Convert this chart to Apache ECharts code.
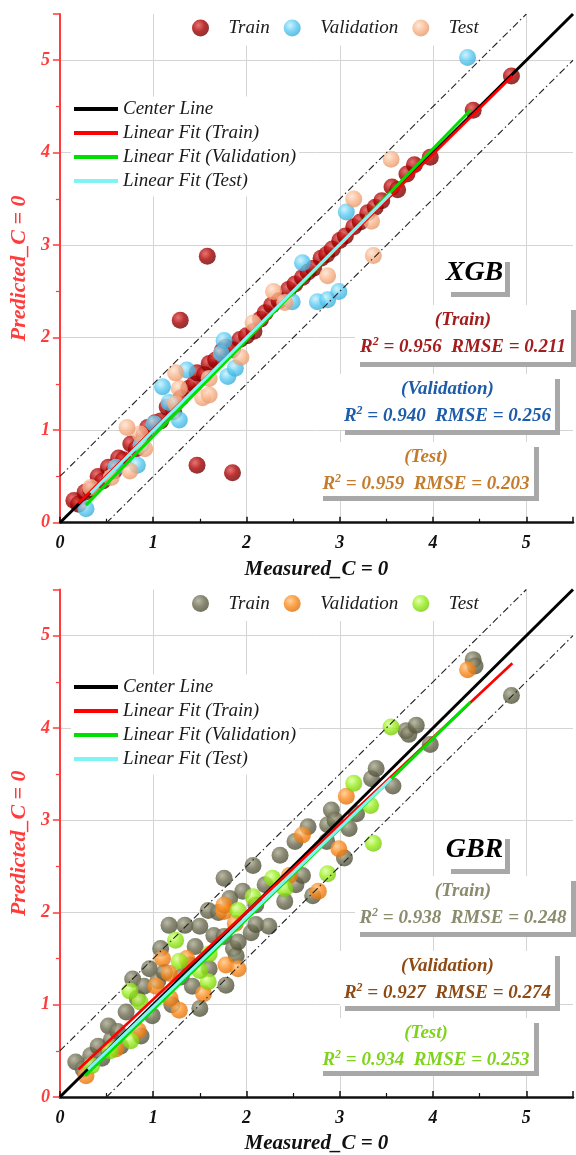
<!DOCTYPE html>
<html><head><meta charset="utf-8">
<script src="https://cdn.jsdelivr.net/npm/echarts@6/dist/echarts.min.js"></script>
<style>html,body{margin:0;padding:0;background:#fff;}#c{width:576px;height:1155px;}</style>
</head><body><div id="c"></div>
<script>
// ---------- DATA ----------
const models = ['XGB', 'GBR'];
const setNames = ['Train', 'Validation', 'Test'];
const fitNames = ['Center Line', 'Linear Fit (Train)', 'Linear Fit (Validation)', 'Linear Fit (Test)'];
const tickValues = [0, 1, 2, 3, 4, 5];
const axisMax = 5.5;
const bandOffset = 0.5;

const xgbTrain = [[0.15,0.24],[0.2,0.2],[0.27,0.33],[0.33,0.36],[0.41,0.5],[0.46,0.45],[0.52,0.6],[0.58,0.56],[0.63,0.7],[0.68,0.68],[0.76,0.85],[0.82,0.8],[0.9,0.95],[0.94,1.03],[1.02,1.08],[1.08,1.1],[1.15,1.25],[1.22,1.2],[1.3,1.35],[1.38,1.45],[1.44,1.5],[1.47,1.62],[1.55,1.6],[1.6,1.72],[1.67,1.76],[1.74,1.86],[1.78,1.9],[1.85,1.87],[1.93,1.98],[2.0,2.02],[2.08,2.07],[2.15,2.2],[2.2,2.27],[2.27,2.35],[2.35,2.4],[2.45,2.52],[2.52,2.58],[2.6,2.65],[2.66,2.71],[2.72,2.75],[2.8,2.86],[2.86,2.9],[2.92,2.96],[3.0,3.05],[3.06,3.1],[3.15,3.2],[3.22,3.25],[3.3,3.35],[3.38,3.41],[3.45,3.48],[3.56,3.63],[3.62,3.6],[3.72,3.77],[3.8,3.87],[3.97,3.95],[4.43,4.46],[4.84,4.83],[1.29,2.19],[1.58,2.88],[1.47,0.62],[1.85,0.54]];
const xgbValidation = [[0.28,0.15],[0.6,0.6],[0.83,0.62],[0.87,0.84],[1.01,1.07],[1.28,1.11],[1.17,1.3],[1.1,1.47],[1.36,1.65],[1.8,1.58],[1.88,1.67],[1.73,1.83],[1.76,1.97],[2.49,2.39],[2.6,2.81],[2.76,2.39],[2.87,2.41],[2.99,2.5],[3.07,3.36],[4.37,5.03]];
const xgbTest = [[0.33,0.38],[0.55,0.49],[0.75,0.56],[0.91,0.8],[0.86,0.96],[0.72,1.03],[1.24,1.29],[1.28,1.45],[1.24,1.62],[1.53,1.35],[1.6,1.38],[1.6,1.56],[1.94,1.79],[2.07,2.16],[2.29,2.5],[2.41,2.38],[2.87,2.67],[3.36,2.89],[3.34,3.26],[3.15,3.5],[3.55,3.93]];

const gbrTrain = [[0.17,0.38],[0.25,0.3],[0.33,0.45],[0.41,0.55],[0.45,0.42],[0.52,0.77],[0.55,0.62],[0.62,0.71],[0.65,0.55],[0.71,0.92],[0.78,1.28],[0.83,1.07],[0.87,0.66],[0.9,1.2],[0.96,1.39],[0.99,0.88],[1.05,1.26],[1.08,1.61],[1.12,1.35],[1.17,1.86],[1.2,1.0],[1.3,1.3],[1.34,1.86],[1.39,1.43],[1.42,1.2],[1.45,1.63],[1.5,1.85],[1.5,0.96],[1.59,2.02],[1.6,1.39],[1.65,1.75],[1.7,2.0],[1.76,1.74],[1.76,2.37],[1.78,1.21],[1.82,2.15],[1.86,1.61],[1.89,1.53],[1.91,1.68],[1.96,2.23],[2.05,1.78],[2.07,2.51],[2.1,2.08],[2.1,1.87],[2.2,2.3],[2.24,1.85],[2.36,2.62],[2.41,2.12],[2.53,2.3],[2.52,2.77],[2.6,2.4],[2.66,2.93],[2.71,2.18],[2.86,2.77],[2.87,2.95],[2.91,3.11],[2.95,3.0],[3.05,2.59],[3.1,2.91],[3.18,3.07],[3.34,3.45],[3.39,3.56],[3.57,3.37],[3.71,3.97],[3.74,3.93],[3.82,4.03],[3.97,3.82],[4.43,4.74],[4.45,4.67],[4.84,4.35]];
const gbrValidation = [[0.28,0.23],[0.6,0.52],[0.84,0.72],[1.28,0.94],[1.18,1.07],[1.03,1.2],[1.54,1.12],[1.17,1.34],[1.1,1.5],[1.36,1.5],[1.78,1.43],[1.91,1.39],[1.88,1.88],[1.76,2.01],[1.76,2.08],[2.46,2.4],[2.77,2.23],[2.6,2.84],[2.99,2.69],[3.07,3.26],[4.37,4.63]];
const gbrTest = [[0.34,0.34],[0.54,0.5],[0.76,0.61],[0.86,1.03],[0.75,1.15],[1.59,1.25],[1.5,1.37],[1.28,1.47],[1.6,1.55],[1.24,1.7],[1.91,2.02],[2.07,2.17],[2.28,2.37],[2.41,2.26],[2.87,2.42],[3.36,2.75],[3.33,3.16],[3.15,3.4],[3.55,4.01]];

// fitted line end points [[x0,y0],[x1,y1]]
const xgbFitTrain = [[0.2,0.21],[4.85,4.83]];
const xgbFitValidation = [[0.28,0.19],[4.4,4.46]];
const xgbFitTest = [[0.33,0.32],[3.55,3.56]];
const gbrFitTrain = [[0.2,0.3],[4.85,4.7]];
const gbrFitValidation = [[0.27,0.23],[4.4,4.28]];
const gbrFitTest = [[0.3,0.3],[3.55,3.45]];

// metrics
const xgbR2 = ['0.956', '0.940', '0.959'];
const xgbRMSE = ['0.211', '0.256', '0.203'];
const gbrR2 = ['0.938', '0.927', '0.934'];
const gbrRMSE = ['0.248', '0.274', '0.253'];

// ---------- STYLE ----------
const FONT = 'Liberation Serif';
const AXIS_RED = '#ff3b3b';
function sphere(light, mid, dark) {
  return {type:'radial', x:0.38, y:0.34, r:0.72, colorStops:[{offset:0,color:light},{offset:0.5,color:mid},{offset:1,color:dark}]};
}
const pointColors = [
  [sphere('#e45050','#a80000','#6a0000'), sphere('#c4f0fd','#5ccbf2','#36a8d6'), sphere('#fde3d0','#f9b58b','#e1956a')],
  [sphere('#a8a890','#6b6b50','#4a4a36'), sphere('#ffc685','#fb8a1c','#dc6c08'), sphere('#dcff98','#97ec1c','#74c606')]
];
const fitColors = ['#000000', '#ff0000', '#00e000', '#80f4f4'];
const fitWidths = [3, 2.6, 3, 3];
const textColors = [
  ['#a31d1d', '#1d5ca8', '#c47b2b'],
  ['#8b8b6d', '#8d4a14', '#7fd31c']
];

const grids = [
  {left: 56.7, top: 14, width: 95 * axisMax, height: 508.7},
  {left: 56.7, top: 589.5, width: 95 * axisMax, height: 508.8}
];

function xAxisFor(gi) {
  return {
    type:'value', gridIndex:gi, min:0, max:axisMax, interval:1,
    name:'Measured_C = 0', nameLocation:'middle', nameGap:36,
    nameTextStyle:{fontFamily:FONT, fontStyle:'italic', fontWeight:'bold', fontSize:21, color:'#111'},
    axisLine:{lineStyle:{color:'#111', width:2.5}},
    axisTick:{inside:true, length:6, lineStyle:{color:'#111', width:1.5}},
    minorTick:{show:true, splitNumber:2, length:4, lineStyle:{color:'#111', width:1.2}},
    axisLabel:{margin:12, fontFamily:FONT, fontStyle:'italic', fontWeight:'bold', fontSize:18, color:'#111',
      formatter: v => tickValues.includes(v) ? String(v) : ''},
    splitLine:{show:true, showMinLine:false, showMaxLine:false, lineStyle:{color:'#d4d4d4', width:1}}
  };
}
function yAxisFor(gi) {
  return {
    type:'value', gridIndex:gi, min:0, max:axisMax, interval:1,
    name:'Predicted_C = 0', nameLocation:'middle', nameGap:26,
    nameTextStyle:{fontFamily:FONT, fontStyle:'italic', fontWeight:'bold', fontSize:22, color:AXIS_RED},
    axisLine:{lineStyle:{color:AXIS_RED, width:2}},
    axisTick:{inside:false, length:7, lineStyle:{color:AXIS_RED, width:1.5}},
    minorTick:{show:true, splitNumber:2, length:4, lineStyle:{color:AXIS_RED, width:1.2}},
    axisLabel:{margin:10, fontFamily:FONT, fontStyle:'italic', fontWeight:'bold', fontSize:18, color:AXIS_RED,
      formatter: v => tickValues.includes(v) ? String(v) : ''},
    splitLine:{show:true, showMinLine:false, showMaxLine:false, lineStyle:{color:'#d4d4d4', width:1}}
  };
}

const scatterData = [[xgbTrain, xgbValidation, xgbTest], [gbrTrain, gbrValidation, gbrTest]];
const fitData = [[xgbFitTrain, xgbFitValidation, xgbFitTest], [gbrFitTrain, gbrFitValidation, gbrFitTest]];

const series = [];
models.forEach((m, gi) => {
  setNames.forEach((s, k) => {
    series.push({type:'scatter', name:m + '|' + s, data:scatterData[gi][k], xAxisIndex:gi, yAxisIndex:gi,
      symbolSize:17, itemStyle:{color:pointColors[gi][k]}, z:2});
  });
  const dash = [7, 3, 1.5, 3];
  series.push({type:'line', name:m + '|upper', data:[[0, bandOffset],[axisMax - bandOffset, axisMax]], xAxisIndex:gi, yAxisIndex:gi,
    symbol:'none', lineStyle:{color:'#222', width:1.1, type:dash}, z:3, silent:true});
  series.push({type:'line', name:m + '|lower', data:[[bandOffset, 0],[axisMax, axisMax - bandOffset]], xAxisIndex:gi, yAxisIndex:gi,
    symbol:'none', lineStyle:{color:'#222', width:1.1, type:dash}, z:3, silent:true});
  const lines = [[[0,0],[axisMax,axisMax]]].concat(fitData[gi]);
  fitNames.forEach((f, k) => {
    series.push({type:'line', name:m + '|' + f, data:lines[k], xAxisIndex:gi, yAxisIndex:gi,
      symbol:'none', color:fitColors[k], itemStyle:{color:fitColors[k]},
      lineStyle:{color:fitColors[k], width:fitWidths[k]}, z:3, silent:true});
  });
});

const legendText = {fontFamily:FONT, fontStyle:'italic', fontSize:19, color:'#1a1a1a', lineHeight:19};
const legendFmt = n => n.split('|')[1];
const legends = [];
const scatterLegendTop = [10.5, 586];
const lineLegendTop = [96.5, 674.5];
models.forEach((m, gi) => {
  legends.push({orient:'horizontal', left:186, top:scatterLegendTop[gi], padding:[8,14,8,6],
    backgroundColor:'#fff', selectedMode:false, icon:'circle', itemWidth:46, itemHeight:17, itemGap:14,
    textStyle:legendText, formatter:legendFmt,
    data:setNames.map(s => m + '|' + s)});
  legends.push({orient:'vertical', left:71, top:lineLegendTop[gi], padding:[3,3,6,3],
    backgroundColor:'#fff', selectedMode:false, icon:'rect', itemWidth:44, itemHeight:4, itemGap:5,
    textStyle:legendText, formatter:legendFmt,
    data:fitNames.map(f => m + '|' + f)});
});

// ---------- annotation boxes ----------
const metrics = [[xgbR2, xgbRMSE], [gbrR2, gbrRMSE]];
const titleBoxes = [{x:446, y:257, w:59, h:35}, {x:446, y:834, w:59, h:35}];
const statBoxes = [
  [{x:355, y:305, w:216, h:57}, {x:340, y:374, w:215, h:56}, {x:318, y:442, w:216, h:54}],
  [{x:355, y:876, w:216, h:56}, {x:340, y:951, w:215, h:55}, {x:318, y:1018, w:216, h:53}]
];
const graphics = [];
function addBox(b) {
  graphics.push({type:'rect', shape:{x:b.x + 5, y:b.y + 5, width:b.w, height:b.h}, style:{fill:'#a8a8a8'}, z:1, silent:true});
  graphics.push({type:'rect', shape:{x:b.x, y:b.y, width:b.w, height:b.h}, style:{fill:'#ffffff'}, z:1, silent:true});
}
models.forEach((m, gi) => {
  const tb = titleBoxes[gi];
  addBox(tb);
  graphics.push({type:'text', x:tb.x + tb.w / 2 - 1, y:tb.y + 16, z:1, silent:true,
    style:{text:m, align:'center', verticalAlign:'middle', fill:'#000',
      fontFamily:FONT, fontStyle:'italic', fontWeight:'bold', fontSize:28}});
  setNames.forEach((s, k) => {
    const b = statBoxes[gi][k];
    const col = textColors[gi][k];
    addBox(b);
    const base = {fontFamily:FONT, fontStyle:'italic', fontWeight:'bold', fontSize:19, fill:col};
    graphics.push({type:'text', x:b.x + b.w / 2, y:b.y + 15, z:1, silent:true,
      style:Object.assign({text:'(' + s + ')', align:'center', verticalAlign:'middle'}, base)});
    graphics.push({type:'text', x:b.x + b.w / 2, y:b.y + 42, z:1, silent:true,
      style:Object.assign({
        text:'{a|R}{s|2}{a| = ' + metrics[gi][0][k] + '  RMSE = ' + metrics[gi][1][k] + '}',
        align:'center', verticalAlign:'middle',
        rich:{
          a:Object.assign({lineHeight:22}, base),
          s:Object.assign({}, base, {fontSize:12, verticalAlign:'top', lineHeight:22})
        }}, base)});
  });
});

const chart = echarts.init(document.getElementById('c'), null, {renderer:'canvas'});
chart.setOption({
  animation:false,
  backgroundColor:'#fff',
  grid:grids,
  xAxis:[xAxisFor(0), xAxisFor(1)],
  yAxis:[yAxisFor(0), yAxisFor(1)],
  legend:legends,
  series:series,
  graphic:{elements:graphics}
});
</script>
</body></html>
